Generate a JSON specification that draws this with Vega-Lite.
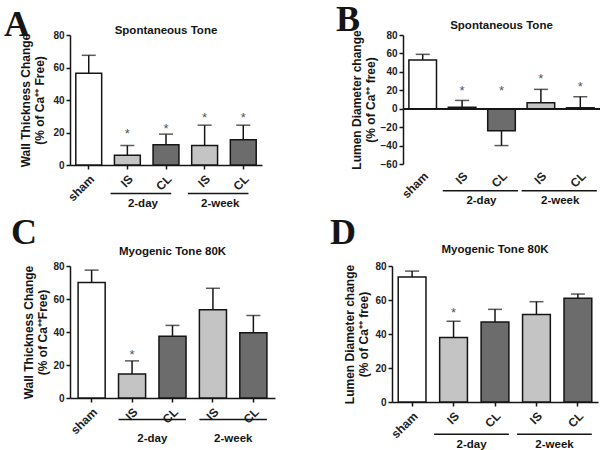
{
  "$schema": "https://vega.github.io/schema/vega-lite/v6.json",
  "padding": {"left": 3, "top": 2, "right": 0, "bottom": 0},
  "background": "white",
  "config": {
    "font": "Liberation Sans",
    "view": {"stroke": null},
    "title": {"font": "Liberation Sans", "fontWeight": "bold", "color": "#151515", "fontSize": 11.5},
    "axis": {"grid": false, "domainColor": "#151515", "tickColor": "#151515", "domainWidth": 1.5, "tickWidth": 1.5, "tickSize": 4,
             "labelColor": "#222222", "labelFont": "Liberation Sans", "labelFontWeight": "bold", "labelFontSize": 10,
             "titleColor": "#151515", "titleFont": "Liberation Sans", "titleFontWeight": "bold", "titleFontSize": 12},
    "concat": {"spacing": 20}
  },
  "vconcat": [
    {
      "spacing": 74,
      "hconcat": [
        {
          "title": {"text": "A", "font": "Liberation Serif", "fontSize": 36, "anchor": "start", "dx": -16, "offset": -19},
          "vconcat": [
            {
              "width": 192, "height": 130,
              "title": {"text": "Spontaneous Tone", "offset": -6},
              "data": {"values": [
                {"cat": "sham", "type": "sham", "mean": 56.5, "err": 67.5},
                {"cat": "IS 2-day", "type": "IS", "mean": 6, "err": 12, "star": 21, "grp": "2-day", "pair": "CL 2-day"},
                {"cat": "CL 2-day", "type": "CL", "mean": 12.5, "err": 19, "star": 24},
                {"cat": "IS 2-week", "type": "IS", "mean": 12, "err": 24.5, "star": 31, "grp": "2-week", "pair": "CL 2-week"},
                {"cat": "CL 2-week", "type": "CL", "mean": 15.5, "err": 24.5, "star": 31}
              ]},
              "encoding": {
                "x": {"field": "cat", "type": "nominal",
                      "scale": {"domain": ["sham", "IS 2-day", "CL 2-day", "IS 2-week", "CL 2-week"], "paddingInner": 0.33, "paddingOuter": 0.15},
                      "axis": {"title": null, "labelAngle": -45, "labelFontSize": 12, "labelExpr": "split(datum.label, ' ')[0]", "labelPadding": 4}},
                "y": {"field": "mean", "type": "quantitative", "scale": {"domain": [0, 80], "nice": false},
                      "axis": {"title": ["Wall Thickness Change", "(% of Ca⁺⁺ Free)"], "values": [0, 20, 40, 60, 80], "titlePadding": 6}}
              },
              "layer": [
                {"mark": {"type": "rule", "color": "#151515", "strokeWidth": 1.5},
                 "encoding": {"y2": {"field": "err"}}},
                {"mark": {"type": "tick", "color": "#151515", "size": 14, "thickness": 1.5},
                 "encoding": {"y": {"field": "err", "type": "quantitative", "axis": {"title": ["Wall Thickness Change", "(% of Ca⁺⁺ Free)"], "values": [0, 20, 40, 60, 80], "titlePadding": 6}}}},
                {"mark": {"type": "bar", "stroke": "#151515", "strokeWidth": 1.5},
                 "encoding": {"fill": {"field": "type", "type": "nominal", "legend": null,
                                       "scale": {"domain": ["sham", "IS", "CL"], "range": ["#ffffff", "#c4c4c4", "#6c6c6c"]}}}},
                {"transform": [{"filter": "datum.star != null"}],
                 "mark": {"type": "text", "text": "*", "fontSize": 13, "color": "#555555", "baseline": "middle", "dy": 3},
                 "encoding": {"y": {"field": "star", "type": "quantitative", "axis": {"title": ["Wall Thickness Change", "(% of Ca⁺⁺ Free)"], "values": [0, 20, 40, 60, 80], "titlePadding": 6}}}},
                {"transform": [{"filter": "datum.grp != null"}],
                 "mark": {"type": "rule", "color": "#151515", "strokeWidth": 1.5},
                 "encoding": {"x": {"field": "cat", "type": "nominal", "bandPosition": -0.15},
                              "x2": {"field": "pair", "bandPosition": 0.7},
                              "y": {"datum": -17.6, "type": "quantitative"}}},
                {"transform": [{"filter": "datum.grp != null"}],
                 "mark": {"type": "text", "fontSize": 11.5, "fontWeight": "bold", "color": "#151515", "baseline": "middle"},
                 "encoding": {"x": {"field": "cat", "type": "nominal", "bandPosition": 1.1},
                              "y": {"datum": -24, "type": "quantitative"},
                              "text": {"field": "grp"}}}
              ]
            }
          ]
        },
        {
          "title": {"text": "B", "font": "Liberation Serif", "fontSize": 36, "anchor": "start", "dx": -14, "offset": -19},
          "vconcat": [
            {
              "width": 197, "height": 129,
              "title": {"text": "Spontaneous Tone", "offset": -2},
              "data": {"values": [
                {"cat": "sham", "type": "sham", "mean": 53, "err": 59},
                {"cat": "IS 2-day", "type": "IS", "mean": 1.5, "err": 9, "star": 23, "grp": "2-day", "pair": "CL 2-day"},
                {"cat": "CL 2-day", "type": "CL", "mean": -24, "err": -40, "star": 23},
                {"cat": "IS 2-week", "type": "IS", "mean": 6.5, "err": 21, "star": 35, "grp": "2-week", "pair": "CL 2-week"},
                {"cat": "CL 2-week", "type": "CL", "mean": 1, "err": 13, "star": 27}
              ]},
              "encoding": {
                "x": {"field": "cat", "type": "nominal",
                      "scale": {"domain": ["sham", "IS 2-day", "CL 2-day", "IS 2-week", "CL 2-week"], "paddingInner": 0.3, "paddingOuter": 0.15},
                      "axis": {"title": null, "domain": false, "ticks": false, "labelAngle": -45, "labelFontSize": 12, "labelExpr": "split(datum.label, ' ')[0]", "labelPadding": 6}},
                "y": {"field": "mean", "type": "quantitative", "scale": {"domain": [-60, 80], "nice": false},
                      "axis": {"title": ["Lumen Diameter change", "(% of Ca⁺⁺ free)"], "values": [-60, -40, -20, 0, 20, 40, 60, 80], "titlePadding": 3}}
              },
              "layer": [
                {"mark": {"type": "rule", "color": "#151515", "strokeWidth": 1.5},
                 "encoding": {"y2": {"field": "err"}}},
                {"mark": {"type": "tick", "color": "#151515", "size": 14, "thickness": 1.5},
                 "encoding": {"y": {"field": "err", "type": "quantitative", "axis": {"title": ["Lumen Diameter change", "(% of Ca⁺⁺ free)"], "values": [-60, -40, -20, 0, 20, 40, 60, 80], "titlePadding": 3}}}},
                {"mark": {"type": "bar", "stroke": "#151515", "strokeWidth": 1.5},
                 "encoding": {"fill": {"field": "type", "type": "nominal", "legend": null,
                                       "scale": {"domain": ["sham", "IS", "CL"], "range": ["#ffffff", "#c4c4c4", "#6c6c6c"]}}}},
                {"mark": {"type": "rule", "color": "#151515", "strokeWidth": 1.5},
                 "encoding": {"x": null, "y": {"datum": 0, "type": "quantitative"}}},
                {"transform": [{"filter": "datum.star != null"}],
                 "mark": {"type": "text", "text": "*", "fontSize": 13, "color": "#555555", "baseline": "middle", "dy": 3},
                 "encoding": {"y": {"field": "star", "type": "quantitative", "axis": {"title": ["Lumen Diameter change", "(% of Ca⁺⁺ free)"], "values": [-60, -40, -20, 0, 20, 40, 60, 80], "titlePadding": 3}}}},
                {"transform": [{"filter": "datum.grp != null"}],
                 "mark": {"type": "rule", "color": "#151515", "strokeWidth": 1.5},
                 "encoding": {"x": {"field": "cat", "type": "nominal", "bandPosition": -0.2},
                              "x2": {"field": "pair", "bandPosition": 1.1},
                              "y": {"datum": -89, "type": "quantitative"}}},
                {"transform": [{"filter": "datum.grp != null"}],
                 "mark": {"type": "text", "fontSize": 11.5, "fontWeight": "bold", "color": "#151515", "baseline": "middle"},
                 "encoding": {"x": {"field": "cat", "type": "nominal", "bandPosition": 1.2},
                              "y": {"datum": -100, "type": "quantitative"},
                              "text": {"field": "grp"}}}
              ]
            }
          ]
        }
      ]
    },
    {
      "spacing": 54,
      "hconcat": [
        {
          "title": {"text": "C", "font": "Liberation Serif", "fontSize": 36, "anchor": "start", "dx": -12, "offset": -6},
          "vconcat": [
            {
              "width": 205, "height": 132,
              "title": {"text": "Myogenic Tone 80K", "offset": 4},
              "data": {"values": [
                {"cat": "sham", "type": "sham", "mean": 70, "err": 77.5},
                {"cat": "IS 2-day", "type": "IS", "mean": 14.5, "err": 22.5, "star": 28, "grp": "2-day", "pair": "CL 2-day"},
                {"cat": "CL 2-day", "type": "CL", "mean": 37.5, "err": 44},
                {"cat": "IS 2-week", "type": "IS", "mean": 53.5, "err": 66.5, "grp": "2-week", "pair": "CL 2-week"},
                {"cat": "CL 2-week", "type": "CL", "mean": 39.5, "err": 50}
              ]},
              "encoding": {
                "x": {"field": "cat", "type": "nominal",
                      "scale": {"domain": ["sham", "IS 2-day", "CL 2-day", "IS 2-week", "CL 2-week"], "paddingInner": 0.33, "paddingOuter": 0.2},
                      "axis": {"title": null, "labelAngle": -45, "labelFontSize": 12, "labelExpr": "split(datum.label, ' ')[0]", "labelPadding": 4}},
                "y": {"field": "mean", "type": "quantitative", "scale": {"domain": [0, 80], "nice": false},
                      "axis": {"title": ["Wall Thickness Change", "(% of Ca⁺⁺Free)"], "values": [0, 20, 40, 60, 80], "titlePadding": 3}}
              },
              "layer": [
                {"mark": {"type": "rule", "color": "#151515", "strokeWidth": 1.5},
                 "encoding": {"y2": {"field": "err"}}},
                {"mark": {"type": "tick", "color": "#151515", "size": 14, "thickness": 1.5},
                 "encoding": {"y": {"field": "err", "type": "quantitative", "axis": {"title": ["Wall Thickness Change", "(% of Ca⁺⁺Free)"], "values": [0, 20, 40, 60, 80], "titlePadding": 3}}}},
                {"mark": {"type": "bar", "stroke": "#151515", "strokeWidth": 1.5},
                 "encoding": {"fill": {"field": "type", "type": "nominal", "legend": null,
                                       "scale": {"domain": ["sham", "IS", "CL"], "range": ["#ffffff", "#c4c4c4", "#6c6c6c"]}}}},
                {"transform": [{"filter": "datum.star != null"}],
                 "mark": {"type": "text", "text": "*", "fontSize": 13, "color": "#555555", "baseline": "middle", "dy": 3},
                 "encoding": {"y": {"field": "star", "type": "quantitative", "axis": {"title": ["Wall Thickness Change", "(% of Ca⁺⁺Free)"], "values": [0, 20, 40, 60, 80], "titlePadding": 3}}}},
                {"transform": [{"filter": "datum.grp != null"}],
                 "mark": {"type": "rule", "color": "#151515", "strokeWidth": 1.5},
                 "encoding": {"x": {"field": "cat", "type": "nominal", "bandPosition": 0},
                              "x2": {"field": "pair", "bandPosition": 1},
                              "y": {"datum": -13, "type": "quantitative"}}},
                {"transform": [{"filter": "datum.grp != null"}],
                 "mark": {"type": "text", "fontSize": 11.5, "fontWeight": "bold", "color": "#151515", "baseline": "middle"},
                 "encoding": {"x": {"field": "cat", "type": "nominal", "bandPosition": 1.25},
                              "y": {"datum": -25, "type": "quantitative"},
                              "text": {"field": "grp"}}}
              ]
            }
          ]
        },
        {
          "title": {"text": "D", "font": "Liberation Serif", "fontSize": 36, "anchor": "start", "dx": -14, "offset": -8},
          "vconcat": [
            {
              "width": 206, "height": 136,
              "title": {"text": "Myogenic Tone 80K", "offset": 6},
              "data": {"values": [
                {"cat": "sham", "type": "sham", "mean": 73.5, "err": 77},
                {"cat": "IS 2-day", "type": "IS", "mean": 38, "err": 47.5, "star": 54, "grp": "2-day", "pair": "CL 2-day"},
                {"cat": "CL 2-day", "type": "CL", "mean": 47, "err": 54.5},
                {"cat": "IS 2-week", "type": "IS", "mean": 51.5, "err": 59, "grp": "2-week", "pair": "CL 2-week"},
                {"cat": "CL 2-week", "type": "CL", "mean": 61, "err": 63.5}
              ]},
              "encoding": {
                "x": {"field": "cat", "type": "nominal",
                      "scale": {"domain": ["sham", "IS 2-day", "CL 2-day", "IS 2-week", "CL 2-week"], "paddingInner": 0.33, "paddingOuter": 0.15},
                      "axis": {"title": null, "labelAngle": -45, "labelFontSize": 12, "labelExpr": "split(datum.label, ' ')[0]", "labelPadding": 4}},
                "y": {"field": "mean", "type": "quantitative", "scale": {"domain": [0, 80], "nice": false},
                      "axis": {"title": ["Lumen Diameter change", "(% of Ca⁺⁺ free)"], "values": [0, 20, 40, 60, 80], "titlePadding": 4}}
              },
              "layer": [
                {"mark": {"type": "rule", "color": "#151515", "strokeWidth": 1.5},
                 "encoding": {"y2": {"field": "err"}}},
                {"mark": {"type": "tick", "color": "#151515", "size": 14, "thickness": 1.5},
                 "encoding": {"y": {"field": "err", "type": "quantitative", "axis": {"title": ["Lumen Diameter change", "(% of Ca⁺⁺ free)"], "values": [0, 20, 40, 60, 80], "titlePadding": 4}}}},
                {"mark": {"type": "bar", "stroke": "#151515", "strokeWidth": 1.5},
                 "encoding": {"fill": {"field": "type", "type": "nominal", "legend": null,
                                       "scale": {"domain": ["sham", "IS", "CL"], "range": ["#ffffff", "#c4c4c4", "#6c6c6c"]}}}},
                {"transform": [{"filter": "datum.star != null"}],
                 "mark": {"type": "text", "text": "*", "fontSize": 13, "color": "#555555", "baseline": "middle", "dy": 3},
                 "encoding": {"y": {"field": "star", "type": "quantitative", "axis": {"title": ["Lumen Diameter change", "(% of Ca⁺⁺ free)"], "values": [0, 20, 40, 60, 80], "titlePadding": 4}}}},
                {"transform": [{"filter": "datum.grp != null"}],
                 "mark": {"type": "rule", "color": "#151515", "strokeWidth": 1.5},
                 "encoding": {"x": {"field": "cat", "type": "nominal", "bandPosition": -0.2},
                              "x2": {"field": "pair", "bandPosition": 1},
                              "y": {"datum": -19, "type": "quantitative"}}},
                {"transform": [{"filter": "datum.grp != null"}],
                 "mark": {"type": "text", "fontSize": 11.5, "fontWeight": "bold", "color": "#151515", "baseline": "middle"},
                 "encoding": {"x": {"field": "cat", "type": "nominal", "bandPosition": 1.15},
                              "y": {"datum": -25, "type": "quantitative"},
                              "text": {"field": "grp"}}}
              ]
            }
          ]
        }
      ]
    }
  ],
  "spacing": 4
}
